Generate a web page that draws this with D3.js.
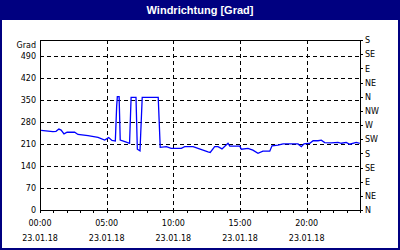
<!DOCTYPE html>
<html>
<head>
  <meta charset="utf-8">
  <title>Windrichtung</title>
  <style>
    body { margin: 0; background: #fff; }
    svg text { font-family: "DejaVu Sans", sans-serif; font-size: 8px; fill: #000; }
    .title { font-family: "Liberation Sans", sans-serif; font-size: 11px; font-weight: bold; fill: #fff; }
    .grid line { stroke: #000; stroke-dasharray: 4,3; shape-rendering: crispEdges; }
    .axis line, .axis path { stroke: #000; shape-rendering: crispEdges; }
  </style>
  <script src="https://d3js.org/d3.v7.min.js"></script>
</head>
<body>
  <script>
    // Messzeiten und Windrichtung in Grad, 23.01.18
    var times = ["00:05","00:58","01:12","01:25","01:35","01:48","02:02","02:36","02:51","03:36",
      "04:21","04:51","05:09","05:24","05:39","05:45","05:48","05:56","06:01","06:22",
      "06:43","06:50","07:12","07:18","07:30","07:40","08:52","09:01","09:29","09:50",
      "10:36","10:51","11:29","11:51","12:36","12:46","13:06","13:21","13:39","14:06",
      "14:14","14:59","15:06","15:36","15:58","16:21","16:43","17:14","17:24","17:51",
      "18:14","19:21","19:36","19:48","20:14","20:29","20:51","21:06","21:21","21:51",
      "22:21","22:36","22:58","23:14","23:43","23:59"];
    var values = [253,249,250,257,254,242,247,247,240,236,
      231,222,230,221,219,330,360,360,222,217,
      212,358,358,193,188,358,358,199,201,196,
      196,201,201,196,185,183,201,201,194,212,
      203,203,193,196,190,180,187,187,204,206,
      210,210,201,210,212,220,220,222,214,213,
      215,212,215,209,215,212];
    var gradTicks = [0,70,140,210,280,350,420,490];
    var dirLabels = ["N","NE","E","SE","S","SW","W","NW","N","NE","E","SE","S"];

    var width = 400, height = 250;
    var margin = {top: 40, right: 40, bottom: 40, left: 40};
    var parse = d3.timeParse("%d.%m.%y %H:%M");
    var data = times.map((t, i) => ({date: parse("23.01.18 " + t), value: values[i]}));

    var svg = d3.select("body").append("svg")
      .attr("width", width)
      .attr("height", height);

    svg.append("rect").attr("width", width).attr("height", height).attr("fill", "#fff");
    svg.append("rect").attr("x", 1).attr("y", 1).attr("width", width - 2).attr("height", height - 2)
      .attr("fill", "none").attr("stroke", "#000080").attr("stroke-width", 2);
    svg.append("rect").attr("width", width).attr("height", 20).attr("fill", "#000080");
    svg.append("text").attr("class", "title")
      .attr("x", width / 2).attr("y", 14)
      .attr("text-anchor", "middle")
      .text("Windrichtung [Grad]");

    var x = d3.scaleTime()
      .domain([parse("23.01.18 00:00"), parse("24.01.18 00:00")])
      .range([margin.left, width - margin.right]);
    var y = d3.scaleLinear()
      .domain([0, 540])
      .range([height - margin.bottom, margin.top]);

    // Beschriftete Zeitpunkte alle 5 Stunden (ohne Tagesende)
    var majorTicks = x.ticks(d3.timeHour.every(5)).filter(d => d < x.domain()[1]);

    // Gitter
    var grid = svg.append("g").attr("class", "grid");
    grid.selectAll(".h").data(gradTicks.slice(1)).enter().append("line")
      .attr("x1", margin.left).attr("x2", width - margin.right)
      .attr("y1", d => y(d) + 0.5).attr("y2", d => y(d) + 0.5);
    grid.selectAll(".v").data(majorTicks.slice(1)).enter().append("line")
      .attr("y1", margin.top).attr("y2", height - margin.bottom)
      .attr("x1", d => Math.round(x(d)) + 0.5).attr("x2", d => Math.round(x(d)) + 0.5);

    // Rahmen oben
    svg.append("line").attr("class", "frame")
      .attr("x1", margin.left).attr("x2", width - margin.right)
      .attr("y1", margin.top + 0.5).attr("y2", margin.top + 0.5)
      .attr("stroke", "#000");

    // x-Achse: Stundenstriche, Beschriftung alle 5 Stunden
    svg.append("g").attr("class", "axis")
      .attr("transform", "translate(0," + (height - margin.bottom) + ")")
      .call(d3.axisBottom(x).ticks(d3.timeHour.every(1)).tickSize(3).tickSizeOuter(0).tickFormat(""));
    var xl = svg.append("g")
      .selectAll("text").data(majorTicks).enter();
    xl.append("text")
      .attr("x", d => x(d)).attr("y", 226)
      .attr("text-anchor", "middle")
      .text(d3.timeFormat("%H:%M"));
    xl.append("text")
      .attr("x", d => x(d)).attr("y", 241)
      .attr("text-anchor", "middle")
      .text(d3.timeFormat("%d.%m.%y"));

    // linke Achse in Grad
    svg.append("g").attr("class", "axis")
      .attr("transform", "translate(" + margin.left + ",0)")
      .call(d3.axisLeft(y).tickValues(gradTicks).tickSize(0).tickSizeOuter(0).tickPadding(4))
      .call(g => g.selectAll("text").attr("dy", "0.35em"));
    svg.append("text")
      .attr("x", margin.left - 4).attr("y", 48)
      .attr("text-anchor", "end")
      .text("Grad");

    // rechte Achse in Himmelsrichtungen
    svg.append("g").attr("class", "axis")
      .attr("transform", "translate(" + (width - margin.right) + ",0)")
      .call(d3.axisRight(y).tickValues(d3.range(0, 541, 45)).tickSize(3).tickSizeOuter(0)
        .tickPadding(2).tickFormat((d, i) => dirLabels[i]))
      .call(g => g.selectAll("text").attr("dy", "0.35em"));

    var line = d3.line()
      .x(d => x(d.date))
      .y(d => y(d.value));

    svg.append("path")
      .datum(data)
      .attr("fill", "none")
      .attr("stroke", "#0000ff")
      .attr("stroke-width", 1.3)
      .attr("d", line);
  </script>
</body>
</html>
